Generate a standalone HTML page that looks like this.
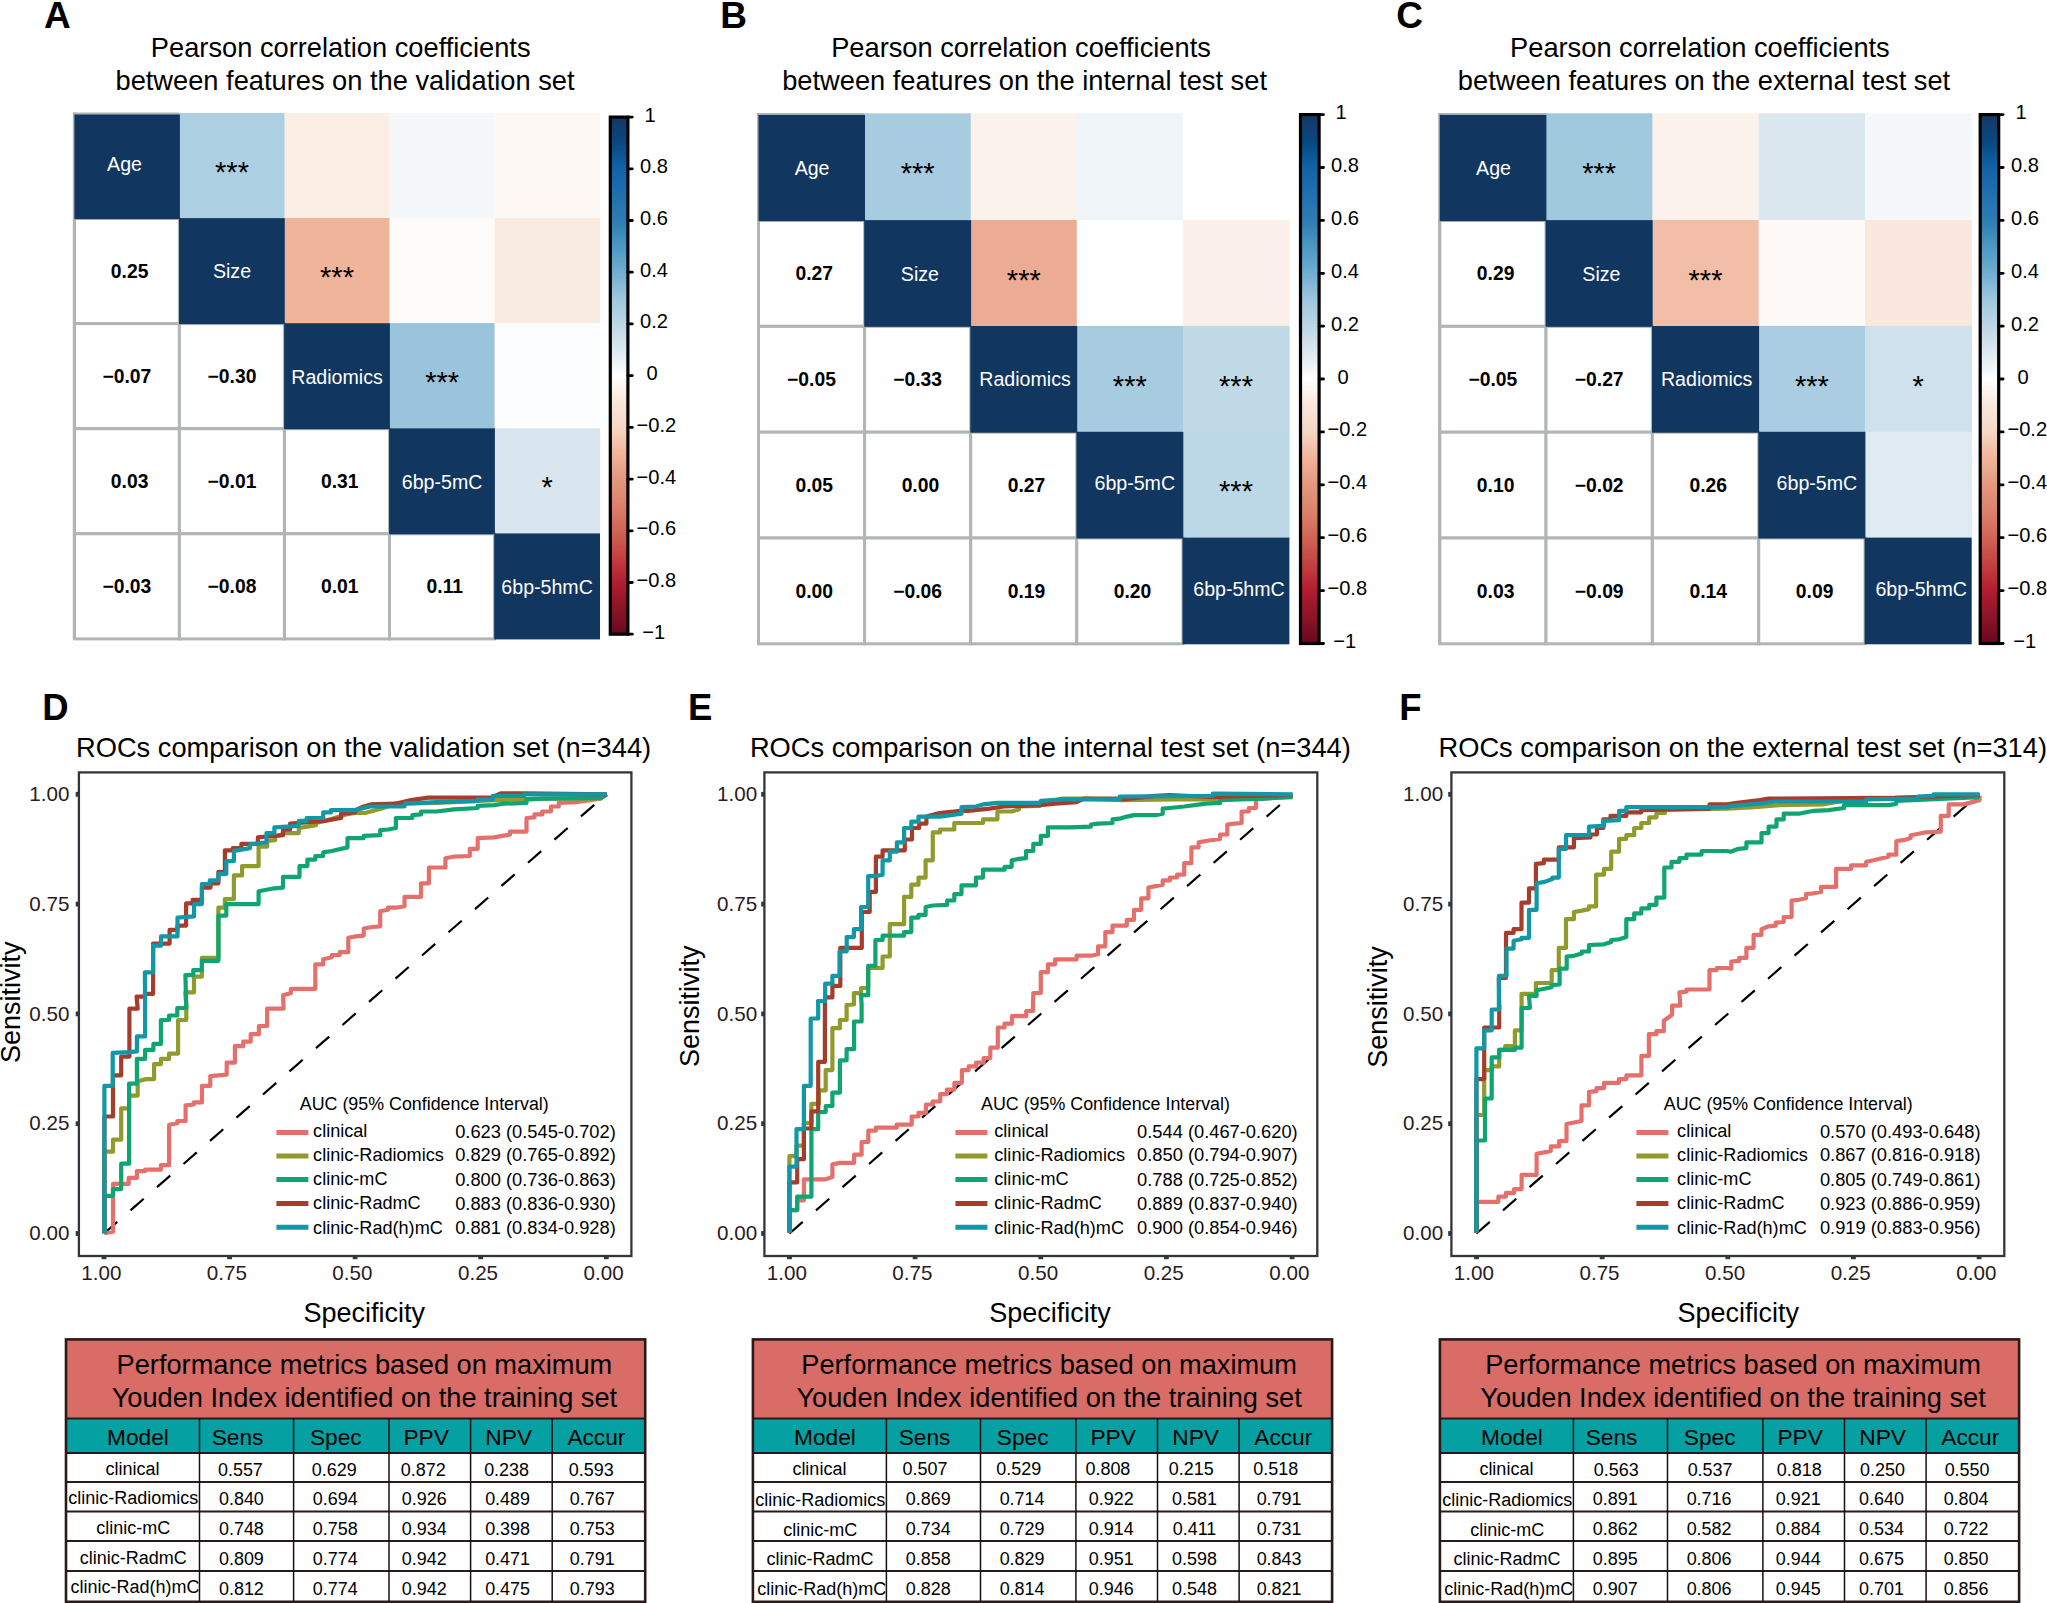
<!DOCTYPE html>
<html><head><meta charset="utf-8"><title>Figure</title>
<style>html,body{margin:0;padding:0;background:#fff}svg{display:block}text{font-family:"Liberation Sans", Arial, Helvetica, sans-serif}</style>
</head><body>
<svg width="2047" height="1603" viewBox="0 0 2047 1603">
<rect width="2047" height="1603" fill="#fff"/>
<defs><linearGradient id="cb" x1="0" y1="0" x2="0" y2="1">
<stop offset="0.000" stop-color="#153864"/>
<stop offset="0.050" stop-color="#084880"/>
<stop offset="0.100" stop-color="#1163a6"/>
<stop offset="0.150" stop-color="#2070af"/>
<stop offset="0.200" stop-color="#2d7db3"/>
<stop offset="0.250" stop-color="#4b98c4"/>
<stop offset="0.300" stop-color="#70aed1"/>
<stop offset="0.350" stop-color="#9ec7dd"/>
<stop offset="0.400" stop-color="#bcd7e6"/>
<stop offset="0.450" stop-color="#dce8f0"/>
<stop offset="0.500" stop-color="#ffffff"/>
<stop offset="0.550" stop-color="#f9e6da"/>
<stop offset="0.600" stop-color="#f7d6c4"/>
<stop offset="0.650" stop-color="#f0b49b"/>
<stop offset="0.700" stop-color="#e3987f"/>
<stop offset="0.750" stop-color="#dc826c"/>
<stop offset="0.800" stop-color="#d06455"/>
<stop offset="0.850" stop-color="#c34141"/>
<stop offset="0.900" stop-color="#b21c30"/>
<stop offset="0.950" stop-color="#8c1428"/>
<stop offset="1.000" stop-color="#670821"/>
</linearGradient></defs>
<text x="44.0" y="28.0" font-size="37" text-anchor="start" font-weight="bold" fill="#000" >A</text>
<text x="340.7" y="56.8" font-size="27.25" text-anchor="middle" font-weight="normal" fill="#000" >Pearson correlation coefficients</text>
<text x="345.0" y="89.8" font-size="27.25" text-anchor="middle" font-weight="normal" fill="#000" >between features on the validation set</text>
<rect x="179.4" y="112.9" width="105.6" height="105.4" fill="#adcfe2"/>
<rect x="284.5" y="112.9" width="105.6" height="105.4" fill="#fbeee5"/>
<rect x="389.5" y="112.9" width="105.6" height="105.4" fill="#f4f8fa"/>
<rect x="494.6" y="112.9" width="105.6" height="105.4" fill="#fdf8f4"/>
<rect x="284.5" y="218.0" width="105.6" height="105.4" fill="#f0b49b"/>
<rect x="389.5" y="218.0" width="105.6" height="105.4" fill="#fefcfb"/>
<rect x="494.6" y="218.0" width="105.6" height="105.4" fill="#faebe1"/>
<rect x="389.5" y="323.1" width="105.6" height="105.4" fill="#99c4dc"/>
<rect x="494.6" y="323.1" width="105.6" height="105.4" fill="#fcfdfe"/>
<rect x="494.6" y="428.2" width="105.6" height="105.4" fill="#d9e6ef"/>
<rect x="74.4" y="218.5" width="105.0" height="105.1" fill="#fff" stroke="#b1b5b6" stroke-width="3"/>
<rect x="74.4" y="323.6" width="105.0" height="105.1" fill="#fff" stroke="#b1b5b6" stroke-width="3"/>
<rect x="179.4" y="323.6" width="105.0" height="105.1" fill="#fff" stroke="#b1b5b6" stroke-width="3"/>
<rect x="74.4" y="428.7" width="105.0" height="105.1" fill="#fff" stroke="#b1b5b6" stroke-width="3"/>
<rect x="179.4" y="428.7" width="105.0" height="105.1" fill="#fff" stroke="#b1b5b6" stroke-width="3"/>
<rect x="284.5" y="428.7" width="105.0" height="105.1" fill="#fff" stroke="#b1b5b6" stroke-width="3"/>
<rect x="74.4" y="533.8" width="105.0" height="105.1" fill="#fff" stroke="#b1b5b6" stroke-width="3"/>
<rect x="179.4" y="533.8" width="105.0" height="105.1" fill="#fff" stroke="#b1b5b6" stroke-width="3"/>
<rect x="284.5" y="533.8" width="105.0" height="105.1" fill="#fff" stroke="#b1b5b6" stroke-width="3"/>
<rect x="389.5" y="533.8" width="105.0" height="105.1" fill="#fff" stroke="#b1b5b6" stroke-width="3"/>
<path d="M74.4 638.9 V112.6" stroke="#b1b5b6" stroke-width="3" fill="none"/>
<path d="M72.9 113.5 H179.4" stroke="#b1b5b6" stroke-width="1.8" fill="none"/>
<rect x="74.4" y="114.4" width="105.5" height="104.7" fill="#11365f"/>
<text x="124.5" y="171.0" font-size="19.6" text-anchor="middle" font-weight="normal" fill="#fff" >Age</text>
<rect x="179.0" y="218.1" width="105.8" height="106.0" fill="#11365f"/>
<text x="232.0" y="278.4" font-size="19.6" text-anchor="middle" font-weight="normal" fill="#fff" >Size</text>
<rect x="284.1" y="323.2" width="105.8" height="106.0" fill="#11365f"/>
<text x="337.0" y="383.5" font-size="19.6" text-anchor="middle" font-weight="normal" fill="#fff" >Radiomics</text>
<rect x="389.1" y="428.3" width="105.8" height="106.0" fill="#11365f"/>
<text x="442.1" y="488.6" font-size="19.6" text-anchor="middle" font-weight="normal" fill="#fff" >6bp-5mC</text>
<rect x="494.2" y="533.4" width="105.8" height="106.0" fill="#11365f"/>
<text x="547.1" y="593.7" font-size="19.6" text-anchor="middle" font-weight="normal" fill="#fff" >6bp-5hmC</text>
<text x="129.6" y="278.1" font-size="19.3" text-anchor="middle" font-weight="bold" fill="#000" >0.25</text>
<text x="126.9" y="383.1" font-size="19.3" text-anchor="middle" font-weight="bold" fill="#000" >−0.07</text>
<text x="232.0" y="383.1" font-size="19.3" text-anchor="middle" font-weight="bold" fill="#000" >−0.30</text>
<text x="129.6" y="488.2" font-size="19.3" text-anchor="middle" font-weight="bold" fill="#000" >0.03</text>
<text x="232.0" y="488.2" font-size="19.3" text-anchor="middle" font-weight="bold" fill="#000" >−0.01</text>
<text x="339.7" y="488.2" font-size="19.3" text-anchor="middle" font-weight="bold" fill="#000" >0.31</text>
<text x="126.9" y="593.3" font-size="19.3" text-anchor="middle" font-weight="bold" fill="#000" >−0.03</text>
<text x="232.0" y="593.3" font-size="19.3" text-anchor="middle" font-weight="bold" fill="#000" >−0.08</text>
<text x="339.7" y="593.3" font-size="19.3" text-anchor="middle" font-weight="bold" fill="#000" >0.01</text>
<text x="444.8" y="593.3" font-size="19.3" text-anchor="middle" font-weight="bold" fill="#000" >0.11</text>
<text x="232.0" y="182.1" font-size="29" text-anchor="middle" font-weight="normal" fill="#000" >***</text>
<text x="337.0" y="287.2" font-size="29" text-anchor="middle" font-weight="normal" fill="#000" >***</text>
<text x="442.1" y="392.3" font-size="29" text-anchor="middle" font-weight="normal" fill="#000" >***</text>
<text x="547.1" y="497.4" font-size="29" text-anchor="middle" font-weight="normal" fill="#000" >*</text>
<rect x="610.3" y="117.1" width="17.6" height="517.1" fill="url(#cb)" stroke="#000" stroke-width="3.2"/>
<path d="M627.9 117.1 h4.4" stroke="#000" stroke-width="2.8" stroke-linecap="round"/>
<text x="644.6" y="121.6" font-size="20.1" text-anchor="start" font-weight="normal" fill="#000" >1</text>
<path d="M627.9 168.8 h4.4" stroke="#000" stroke-width="2.8" stroke-linecap="round"/>
<text x="640.1" y="173.3" font-size="20.1" text-anchor="start" font-weight="normal" fill="#000" >0.8</text>
<path d="M627.9 220.5 h4.4" stroke="#000" stroke-width="2.8" stroke-linecap="round"/>
<text x="640.1" y="225.0" font-size="20.1" text-anchor="start" font-weight="normal" fill="#000" >0.6</text>
<path d="M627.9 272.2 h4.4" stroke="#000" stroke-width="2.8" stroke-linecap="round"/>
<text x="640.1" y="276.7" font-size="20.1" text-anchor="start" font-weight="normal" fill="#000" >0.4</text>
<path d="M627.9 323.9 h4.4" stroke="#000" stroke-width="2.8" stroke-linecap="round"/>
<text x="640.1" y="328.4" font-size="20.1" text-anchor="start" font-weight="normal" fill="#000" >0.2</text>
<path d="M627.9 375.6 h4.4" stroke="#000" stroke-width="2.8" stroke-linecap="round"/>
<text x="646.5" y="380.1" font-size="20.1" text-anchor="start" font-weight="normal" fill="#000" >0</text>
<path d="M627.9 427.4 h4.4" stroke="#000" stroke-width="2.8" stroke-linecap="round"/>
<text x="636.5" y="431.9" font-size="20.1" text-anchor="start" font-weight="normal" fill="#000" >−0.2</text>
<path d="M627.9 479.1 h4.4" stroke="#000" stroke-width="2.8" stroke-linecap="round"/>
<text x="636.5" y="483.6" font-size="20.1" text-anchor="start" font-weight="normal" fill="#000" >−0.4</text>
<path d="M627.9 530.8 h4.4" stroke="#000" stroke-width="2.8" stroke-linecap="round"/>
<text x="636.5" y="535.3" font-size="20.1" text-anchor="start" font-weight="normal" fill="#000" >−0.6</text>
<path d="M627.9 582.5 h4.4" stroke="#000" stroke-width="2.8" stroke-linecap="round"/>
<text x="636.5" y="587.0" font-size="20.1" text-anchor="start" font-weight="normal" fill="#000" >−0.8</text>
<path d="M627.9 634.2 h4.4" stroke="#000" stroke-width="2.8" stroke-linecap="round"/>
<text x="642.3" y="638.7" font-size="20.1" text-anchor="start" font-weight="normal" fill="#000" >−1</text>
<text x="720.3" y="28.0" font-size="37" text-anchor="start" font-weight="bold" fill="#000" >B</text>
<text x="1021.0" y="56.8" font-size="27.25" text-anchor="middle" font-weight="normal" fill="#000" >Pearson correlation coefficients</text>
<text x="1024.6" y="89.8" font-size="27.25" text-anchor="middle" font-weight="normal" fill="#000" >between features on the internal test set</text>
<rect x="864.6" y="113.3" width="106.7" height="107.0" fill="#a7cce0"/>
<rect x="970.7" y="113.3" width="106.7" height="107.0" fill="#fcf2ec"/>
<rect x="1076.8" y="113.3" width="106.7" height="107.0" fill="#eef4f8"/>
<rect x="1182.9" y="113.3" width="106.7" height="107.0" fill="#ffffff"/>
<rect x="970.7" y="220.0" width="106.7" height="106.1" fill="#ecac93"/>
<rect x="1076.8" y="220.0" width="106.7" height="106.1" fill="#ffffff"/>
<rect x="1182.9" y="220.0" width="106.7" height="106.1" fill="#fbf0e9"/>
<rect x="1076.8" y="325.9" width="106.7" height="106.1" fill="#a7cce0"/>
<rect x="1182.9" y="325.9" width="106.7" height="106.1" fill="#bfd9e7"/>
<rect x="1182.9" y="431.7" width="106.7" height="106.1" fill="#bcd7e6"/>
<rect x="758.5" y="220.5" width="106.1" height="105.8" fill="#fff" stroke="#b1b5b6" stroke-width="3"/>
<rect x="758.5" y="326.4" width="106.1" height="105.8" fill="#fff" stroke="#b1b5b6" stroke-width="3"/>
<rect x="864.6" y="326.4" width="106.1" height="105.8" fill="#fff" stroke="#b1b5b6" stroke-width="3"/>
<rect x="758.5" y="432.2" width="106.1" height="105.8" fill="#fff" stroke="#b1b5b6" stroke-width="3"/>
<rect x="864.6" y="432.2" width="106.1" height="105.8" fill="#fff" stroke="#b1b5b6" stroke-width="3"/>
<rect x="970.7" y="432.2" width="106.1" height="105.8" fill="#fff" stroke="#b1b5b6" stroke-width="3"/>
<rect x="758.5" y="538.0" width="106.1" height="105.8" fill="#fff" stroke="#b1b5b6" stroke-width="3"/>
<rect x="864.6" y="538.0" width="106.1" height="105.8" fill="#fff" stroke="#b1b5b6" stroke-width="3"/>
<rect x="970.7" y="538.0" width="106.1" height="105.8" fill="#fff" stroke="#b1b5b6" stroke-width="3"/>
<rect x="1076.8" y="538.0" width="106.1" height="105.8" fill="#fff" stroke="#b1b5b6" stroke-width="3"/>
<path d="M758.5 643.8 V113.0" stroke="#b1b5b6" stroke-width="3" fill="none"/>
<path d="M757.0 113.9 H864.6" stroke="#b1b5b6" stroke-width="1.8" fill="none"/>
<rect x="758.5" y="114.8" width="106.5" height="106.3" fill="#11365f"/>
<text x="812.1" y="174.6" font-size="19.6" text-anchor="middle" font-weight="normal" fill="#fff" >Age</text>
<rect x="864.2" y="220.1" width="106.9" height="106.7" fill="#11365f"/>
<text x="919.9" y="280.8" font-size="19.6" text-anchor="middle" font-weight="normal" fill="#fff" >Size</text>
<rect x="970.3" y="326.0" width="106.9" height="106.7" fill="#11365f"/>
<text x="1025.0" y="386.4" font-size="19.6" text-anchor="middle" font-weight="normal" fill="#fff" >Radiomics</text>
<rect x="1076.4" y="431.8" width="106.9" height="106.7" fill="#11365f"/>
<text x="1134.8" y="490.3" font-size="19.6" text-anchor="middle" font-weight="normal" fill="#fff" >6bp-5mC</text>
<rect x="1182.5" y="537.6" width="106.9" height="106.7" fill="#11365f"/>
<text x="1239.0" y="596.2" font-size="19.6" text-anchor="middle" font-weight="normal" fill="#fff" >6bp-5hmC</text>
<text x="814.2" y="280.4" font-size="19.3" text-anchor="middle" font-weight="bold" fill="#000" >0.27</text>
<text x="811.5" y="386.3" font-size="19.3" text-anchor="middle" font-weight="bold" fill="#000" >−0.05</text>
<text x="917.6" y="386.3" font-size="19.3" text-anchor="middle" font-weight="bold" fill="#000" >−0.33</text>
<text x="814.2" y="492.1" font-size="19.3" text-anchor="middle" font-weight="bold" fill="#000" >0.05</text>
<text x="920.4" y="492.1" font-size="19.3" text-anchor="middle" font-weight="bold" fill="#000" >0.00</text>
<text x="1026.5" y="492.1" font-size="19.3" text-anchor="middle" font-weight="bold" fill="#000" >0.27</text>
<text x="814.2" y="597.9" font-size="19.3" text-anchor="middle" font-weight="bold" fill="#000" >0.00</text>
<text x="917.6" y="597.9" font-size="19.3" text-anchor="middle" font-weight="bold" fill="#000" >−0.06</text>
<text x="1026.5" y="597.9" font-size="19.3" text-anchor="middle" font-weight="bold" fill="#000" >0.19</text>
<text x="1132.5" y="597.9" font-size="19.3" text-anchor="middle" font-weight="bold" fill="#000" >0.20</text>
<text x="917.6" y="183.4" font-size="29" text-anchor="middle" font-weight="normal" fill="#000" >***</text>
<text x="1023.8" y="289.6" font-size="29" text-anchor="middle" font-weight="normal" fill="#000" >***</text>
<text x="1129.8" y="395.5" font-size="29" text-anchor="middle" font-weight="normal" fill="#000" >***</text>
<text x="1236.0" y="395.5" font-size="29" text-anchor="middle" font-weight="normal" fill="#000" >***</text>
<text x="1236.0" y="501.3" font-size="29" text-anchor="middle" font-weight="normal" fill="#000" >***</text>
<rect x="1300.5" y="114.6" width="18.6" height="528.9" fill="url(#cb)" stroke="#000" stroke-width="3.2"/>
<path d="M1319.1 114.6 h4.4" stroke="#000" stroke-width="2.8" stroke-linecap="round"/>
<text x="1335.5" y="119.1" font-size="20.1" text-anchor="start" font-weight="normal" fill="#000" >1</text>
<path d="M1319.1 167.5 h4.4" stroke="#000" stroke-width="2.8" stroke-linecap="round"/>
<text x="1331.0" y="172.0" font-size="20.1" text-anchor="start" font-weight="normal" fill="#000" >0.8</text>
<path d="M1319.1 220.4 h4.4" stroke="#000" stroke-width="2.8" stroke-linecap="round"/>
<text x="1331.0" y="224.9" font-size="20.1" text-anchor="start" font-weight="normal" fill="#000" >0.6</text>
<path d="M1319.1 273.3 h4.4" stroke="#000" stroke-width="2.8" stroke-linecap="round"/>
<text x="1331.0" y="277.8" font-size="20.1" text-anchor="start" font-weight="normal" fill="#000" >0.4</text>
<path d="M1319.1 326.2 h4.4" stroke="#000" stroke-width="2.8" stroke-linecap="round"/>
<text x="1331.0" y="330.7" font-size="20.1" text-anchor="start" font-weight="normal" fill="#000" >0.2</text>
<path d="M1319.1 379.0 h4.4" stroke="#000" stroke-width="2.8" stroke-linecap="round"/>
<text x="1337.4" y="383.5" font-size="20.1" text-anchor="start" font-weight="normal" fill="#000" >0</text>
<path d="M1319.1 431.9 h4.4" stroke="#000" stroke-width="2.8" stroke-linecap="round"/>
<text x="1327.4" y="436.4" font-size="20.1" text-anchor="start" font-weight="normal" fill="#000" >−0.2</text>
<path d="M1319.1 484.8 h4.4" stroke="#000" stroke-width="2.8" stroke-linecap="round"/>
<text x="1327.4" y="489.3" font-size="20.1" text-anchor="start" font-weight="normal" fill="#000" >−0.4</text>
<path d="M1319.1 537.7 h4.4" stroke="#000" stroke-width="2.8" stroke-linecap="round"/>
<text x="1327.4" y="542.2" font-size="20.1" text-anchor="start" font-weight="normal" fill="#000" >−0.6</text>
<path d="M1319.1 590.6 h4.4" stroke="#000" stroke-width="2.8" stroke-linecap="round"/>
<text x="1327.4" y="595.1" font-size="20.1" text-anchor="start" font-weight="normal" fill="#000" >−0.8</text>
<path d="M1319.1 643.5 h4.4" stroke="#000" stroke-width="2.8" stroke-linecap="round"/>
<text x="1333.2" y="648.0" font-size="20.1" text-anchor="start" font-weight="normal" fill="#000" >−1</text>
<text x="1396.2" y="28.0" font-size="37" text-anchor="start" font-weight="bold" fill="#000" >C</text>
<text x="1699.9" y="56.8" font-size="27.25" text-anchor="middle" font-weight="normal" fill="#000" >Pearson correlation coefficients</text>
<text x="1704.0" y="89.8" font-size="27.25" text-anchor="middle" font-weight="normal" fill="#000" >between features on the external test set</text>
<rect x="1546.0" y="113.3" width="106.9" height="107.0" fill="#a1c9de"/>
<rect x="1652.4" y="113.3" width="106.9" height="107.0" fill="#fcf2ec"/>
<rect x="1758.7" y="113.3" width="106.9" height="107.0" fill="#dce8f0"/>
<rect x="1865.0" y="113.3" width="106.9" height="107.0" fill="#f4f8fa"/>
<rect x="1652.4" y="220.0" width="106.9" height="106.1" fill="#f2bea7"/>
<rect x="1758.7" y="220.0" width="106.9" height="106.1" fill="#fefaf8"/>
<rect x="1865.0" y="220.0" width="106.9" height="106.1" fill="#fae8de"/>
<rect x="1758.7" y="325.9" width="106.9" height="106.1" fill="#aacde1"/>
<rect x="1865.0" y="325.9" width="106.9" height="106.1" fill="#cfe1ec"/>
<rect x="1865.0" y="431.7" width="106.9" height="106.1" fill="#e0eaf2"/>
<rect x="1439.7" y="220.5" width="106.3" height="105.8" fill="#fff" stroke="#b1b5b6" stroke-width="3"/>
<rect x="1439.7" y="326.4" width="106.3" height="105.8" fill="#fff" stroke="#b1b5b6" stroke-width="3"/>
<rect x="1546.0" y="326.4" width="106.3" height="105.8" fill="#fff" stroke="#b1b5b6" stroke-width="3"/>
<rect x="1439.7" y="432.2" width="106.3" height="105.8" fill="#fff" stroke="#b1b5b6" stroke-width="3"/>
<rect x="1546.0" y="432.2" width="106.3" height="105.8" fill="#fff" stroke="#b1b5b6" stroke-width="3"/>
<rect x="1652.4" y="432.2" width="106.3" height="105.8" fill="#fff" stroke="#b1b5b6" stroke-width="3"/>
<rect x="1439.7" y="538.0" width="106.3" height="105.8" fill="#fff" stroke="#b1b5b6" stroke-width="3"/>
<rect x="1546.0" y="538.0" width="106.3" height="105.8" fill="#fff" stroke="#b1b5b6" stroke-width="3"/>
<rect x="1652.4" y="538.0" width="106.3" height="105.8" fill="#fff" stroke="#b1b5b6" stroke-width="3"/>
<rect x="1758.7" y="538.0" width="106.3" height="105.8" fill="#fff" stroke="#b1b5b6" stroke-width="3"/>
<path d="M1439.7 643.8 V113.0" stroke="#b1b5b6" stroke-width="3" fill="none"/>
<path d="M1438.2 113.9 H1546.0" stroke="#b1b5b6" stroke-width="1.8" fill="none"/>
<rect x="1439.7" y="114.8" width="106.7" height="106.3" fill="#11365f"/>
<text x="1493.5" y="174.6" font-size="19.6" text-anchor="middle" font-weight="normal" fill="#fff" >Age</text>
<rect x="1545.6" y="220.1" width="107.1" height="106.7" fill="#11365f"/>
<text x="1601.4" y="280.8" font-size="19.6" text-anchor="middle" font-weight="normal" fill="#fff" >Size</text>
<rect x="1652.0" y="326.0" width="107.1" height="106.7" fill="#11365f"/>
<text x="1706.7" y="386.4" font-size="19.6" text-anchor="middle" font-weight="normal" fill="#fff" >Radiomics</text>
<rect x="1758.3" y="431.8" width="107.1" height="106.7" fill="#11365f"/>
<text x="1816.9" y="490.3" font-size="19.6" text-anchor="middle" font-weight="normal" fill="#fff" >6bp-5mC</text>
<rect x="1864.6" y="537.6" width="107.1" height="106.7" fill="#11365f"/>
<text x="1921.2" y="596.2" font-size="19.6" text-anchor="middle" font-weight="normal" fill="#fff" >6bp-5hmC</text>
<text x="1495.6" y="280.4" font-size="19.3" text-anchor="middle" font-weight="bold" fill="#000" >0.29</text>
<text x="1492.9" y="386.3" font-size="19.3" text-anchor="middle" font-weight="bold" fill="#000" >−0.05</text>
<text x="1599.2" y="386.3" font-size="19.3" text-anchor="middle" font-weight="bold" fill="#000" >−0.27</text>
<text x="1495.6" y="492.1" font-size="19.3" text-anchor="middle" font-weight="bold" fill="#000" >0.10</text>
<text x="1599.2" y="492.1" font-size="19.3" text-anchor="middle" font-weight="bold" fill="#000" >−0.02</text>
<text x="1708.2" y="492.1" font-size="19.3" text-anchor="middle" font-weight="bold" fill="#000" >0.26</text>
<text x="1495.6" y="597.9" font-size="19.3" text-anchor="middle" font-weight="bold" fill="#000" >0.03</text>
<text x="1599.2" y="597.9" font-size="19.3" text-anchor="middle" font-weight="bold" fill="#000" >−0.09</text>
<text x="1708.2" y="597.9" font-size="19.3" text-anchor="middle" font-weight="bold" fill="#000" >0.14</text>
<text x="1814.6" y="597.9" font-size="19.3" text-anchor="middle" font-weight="bold" fill="#000" >0.09</text>
<text x="1599.2" y="183.4" font-size="29" text-anchor="middle" font-weight="normal" fill="#000" >***</text>
<text x="1705.5" y="289.6" font-size="29" text-anchor="middle" font-weight="normal" fill="#000" >***</text>
<text x="1811.9" y="395.5" font-size="29" text-anchor="middle" font-weight="normal" fill="#000" >***</text>
<text x="1918.2" y="395.5" font-size="29" text-anchor="middle" font-weight="normal" fill="#000" >*</text>
<rect x="1980.2" y="114.6" width="18.5" height="528.9" fill="url(#cb)" stroke="#000" stroke-width="3.2"/>
<path d="M1998.7 114.6 h4.4" stroke="#000" stroke-width="2.8" stroke-linecap="round"/>
<text x="2015.5" y="119.1" font-size="20.1" text-anchor="start" font-weight="normal" fill="#000" >1</text>
<path d="M1998.7 167.5 h4.4" stroke="#000" stroke-width="2.8" stroke-linecap="round"/>
<text x="2011.0" y="172.0" font-size="20.1" text-anchor="start" font-weight="normal" fill="#000" >0.8</text>
<path d="M1998.7 220.4 h4.4" stroke="#000" stroke-width="2.8" stroke-linecap="round"/>
<text x="2011.0" y="224.9" font-size="20.1" text-anchor="start" font-weight="normal" fill="#000" >0.6</text>
<path d="M1998.7 273.3 h4.4" stroke="#000" stroke-width="2.8" stroke-linecap="round"/>
<text x="2011.0" y="277.8" font-size="20.1" text-anchor="start" font-weight="normal" fill="#000" >0.4</text>
<path d="M1998.7 326.2 h4.4" stroke="#000" stroke-width="2.8" stroke-linecap="round"/>
<text x="2011.0" y="330.7" font-size="20.1" text-anchor="start" font-weight="normal" fill="#000" >0.2</text>
<path d="M1998.7 379.0 h4.4" stroke="#000" stroke-width="2.8" stroke-linecap="round"/>
<text x="2017.4" y="383.5" font-size="20.1" text-anchor="start" font-weight="normal" fill="#000" >0</text>
<path d="M1998.7 431.9 h4.4" stroke="#000" stroke-width="2.8" stroke-linecap="round"/>
<text x="2007.4" y="436.4" font-size="20.1" text-anchor="start" font-weight="normal" fill="#000" >−0.2</text>
<path d="M1998.7 484.8 h4.4" stroke="#000" stroke-width="2.8" stroke-linecap="round"/>
<text x="2007.4" y="489.3" font-size="20.1" text-anchor="start" font-weight="normal" fill="#000" >−0.4</text>
<path d="M1998.7 537.7 h4.4" stroke="#000" stroke-width="2.8" stroke-linecap="round"/>
<text x="2007.4" y="542.2" font-size="20.1" text-anchor="start" font-weight="normal" fill="#000" >−0.6</text>
<path d="M1998.7 590.6 h4.4" stroke="#000" stroke-width="2.8" stroke-linecap="round"/>
<text x="2007.4" y="595.1" font-size="20.1" text-anchor="start" font-weight="normal" fill="#000" >−0.8</text>
<path d="M1998.7 643.5 h4.4" stroke="#000" stroke-width="2.8" stroke-linecap="round"/>
<text x="2013.2" y="648.0" font-size="20.1" text-anchor="start" font-weight="normal" fill="#000" >−1</text>
<text x="42.2" y="719.6" font-size="36.5" text-anchor="start" font-weight="bold" fill="#000" >D</text>
<text x="76.0" y="757.0" font-size="27.27" text-anchor="start" font-weight="normal" fill="#000" >ROCs comparison on the validation set (n=344)</text>
<rect x="78.9" y="772.4" width="552.5" height="483.6" fill="none" stroke="#32363a" stroke-width="2.3"/>
<path d="M104.0 1256.0 v3.2" stroke="#32363a" stroke-width="4.8"/>
<path d="M78.9 794.3 h-3.2" stroke="#32363a" stroke-width="4.8"/>
<text x="101.3" y="1280.4" font-size="20.6" text-anchor="middle" font-weight="normal" fill="#2b1c1c" >1.00</text>
<text x="69.4" y="801.0" font-size="20.6" text-anchor="end" font-weight="normal" fill="#2b1c1c" >1.00</text>
<path d="M229.6 1256.0 v3.2" stroke="#32363a" stroke-width="4.8"/>
<path d="M78.9 904.1 h-3.2" stroke="#32363a" stroke-width="4.8"/>
<text x="226.9" y="1280.4" font-size="20.6" text-anchor="middle" font-weight="normal" fill="#2b1c1c" >0.75</text>
<text x="69.4" y="910.8" font-size="20.6" text-anchor="end" font-weight="normal" fill="#2b1c1c" >0.75</text>
<path d="M355.1 1256.0 v3.2" stroke="#32363a" stroke-width="4.8"/>
<path d="M78.9 1013.9 h-3.2" stroke="#32363a" stroke-width="4.8"/>
<text x="352.4" y="1280.4" font-size="20.6" text-anchor="middle" font-weight="normal" fill="#2b1c1c" >0.50</text>
<text x="69.4" y="1020.6" font-size="20.6" text-anchor="end" font-weight="normal" fill="#2b1c1c" >0.50</text>
<path d="M480.7 1256.0 v3.2" stroke="#32363a" stroke-width="4.8"/>
<path d="M78.9 1123.7 h-3.2" stroke="#32363a" stroke-width="4.8"/>
<text x="478.0" y="1280.4" font-size="20.6" text-anchor="middle" font-weight="normal" fill="#2b1c1c" >0.25</text>
<text x="69.4" y="1130.4" font-size="20.6" text-anchor="end" font-weight="normal" fill="#2b1c1c" >0.25</text>
<path d="M606.3 1256.0 v3.2" stroke="#32363a" stroke-width="4.8"/>
<path d="M78.9 1233.5 h-3.2" stroke="#32363a" stroke-width="4.8"/>
<text x="603.6" y="1280.4" font-size="20.6" text-anchor="middle" font-weight="normal" fill="#2b1c1c" >0.00</text>
<text x="69.4" y="1240.2" font-size="20.6" text-anchor="end" font-weight="normal" fill="#2b1c1c" >0.00</text>
<path d="M104.0 1233.5 L606.3 794.3" stroke="#000" stroke-width="2.2" stroke-dasharray="17.6 17.6" fill="none"/>
<polyline points="104.4,1233.3 113.0,1231.8 113.0,1183.9 128.7,1183.9 128.7,1177.9 136.9,1177.9 136.9,1171.1 145.1,1171.1 145.1,1169.6 160.9,1169.6 160.9,1165.2 169.1,1165.2 169.1,1124.7 177.3,1123.2 177.3,1121.0 185.6,1121.0 185.6,1105.3 193.8,1104.5 193.8,1102.3 202.0,1102.3 202.0,1085.8 210.3,1085.8 210.3,1076.1 218.5,1075.3 226.7,1074.6 226.7,1062.6 234.9,1062.6 234.9,1046.2 243.2,1046.2 243.2,1041.7 250.7,1041.7 250.7,1034.2 258.9,1034.2 258.9,1026.0 267.1,1026.0 267.1,1008.7 283.6,1008.7 283.0,995.2 290.9,993.1 290.9,988.8 315.3,988.8 315.3,964.4 323.2,964.4 323.2,959.3 331.8,957.2 331.8,955.0 339.7,955.0 339.7,952.2 348.3,952.2 348.3,937.8 355.8,936.4 363.7,935.6 363.7,928.5 372.3,927.0 380.2,926.3 380.2,911.3 388.0,909.8 388.0,907.7 395.9,907.7 404.5,906.2 404.5,896.9 421.0,896.9 421.0,883.3 428.9,883.3 428.9,867.5 445.4,867.5 445.4,858.2 453.3,856.7 469.8,856.0 469.8,848.8 477.7,848.8 477.7,838.1 494.2,837.4 502.1,835.9 510.0,834.5 510.0,831.6 526.5,831.6 526.5,818.0 534.4,817.3 534.4,814.4 542.3,814.4 542.3,811.5 550.9,811.5 550.9,806.5 558.8,806.5 558.8,802.9 576.0,802.2 600.4,798.6 606.8,794.3" fill="none" stroke="#e5706b" stroke-width="4.2" stroke-linejoin="round"/>
<polyline points="104.4,1233.3 104.4,1151.7 113.0,1151.7 113.0,1139.7 121.2,1139.7 121.2,1108.3 129.1,1108.3 129.1,1095.6 137.7,1095.6 137.7,1081.3 145.9,1079.1 154.1,1079.1 154.1,1064.1 160.9,1064.1 160.9,1058.9 169.1,1058.9 169.1,1053.6 178.1,1053.6 178.1,1020.0 186.3,1020.0 186.3,1005.0 185.4,992.3 194.0,992.3 194.0,976.6 201.9,976.6 201.9,957.9 218.4,957.9 218.4,907.7 224.9,907.7 224.9,899.1 233.9,899.1 233.9,875.4 242.1,875.4 242.1,866.1 258.6,866.1 258.6,846.7 267.2,846.7 267.2,841.0 275.1,840.2 275.1,836.7 285.8,833.1 298.8,833.1 298.8,828.0 307.4,826.6 316.0,825.2 316.0,823.0 324.6,820.9 346.1,814.4 355.0,813.0 365.1,813.0 380.9,808.7 395.2,803.7 436.8,802.9 495.6,800.1 524.3,799.3 543.0,798.6 600.4,798.6 606.8,794.3" fill="none" stroke="#909a2d" stroke-width="4.2" stroke-linejoin="round"/>
<polyline points="104.4,1233.3 104.4,1195.8 113.0,1195.8 113.0,1189.1 121.2,1189.1 121.2,1163.7 129.1,1163.7 129.1,1083.6 136.9,1083.6 136.9,1058.9 145.1,1058.9 145.1,1049.9 153.4,1049.9 153.4,1043.9 160.9,1043.9 160.9,1020.0 169.1,1020.0 169.1,1015.5 177.3,1015.5 177.3,1008.0 186.3,1008.0 185.4,975.1 193.3,975.1 193.3,970.1 201.9,970.1 201.9,960.8 218.4,960.8 218.4,915.6 226.3,915.6 226.3,904.1 258.6,904.1 258.6,891.2 266.5,889.7 274.4,888.3 283.0,887.6 283.0,876.8 299.5,876.8 299.5,866.1 307.4,866.1 307.4,859.6 315.3,859.6 315.3,856.0 323.2,856.0 323.2,852.4 331.8,851.0 347.5,847.4 347.5,838.1 355.0,838.1 347.9,838.1 363.7,838.1 363.7,835.9 380.2,835.2 380.2,830.2 388.0,829.5 395.9,828.0 395.9,818.0 412.4,818.0 412.4,815.1 421.0,814.4 421.0,811.5 436.8,811.5 454.0,809.4 477.7,808.0 477.7,805.8 494.2,805.1 502.8,803.7 526.5,802.9 526.5,799.3 543.0,798.6 600.4,797.9 606.8,794.3" fill="none" stroke="#0fa571" stroke-width="4.2" stroke-linejoin="round"/>
<polyline points="104.4,1233.3 104.4,1116.5 113.0,1116.5 113.0,1075.3 121.2,1075.3 121.2,1056.6 129.4,1056.6 129.4,1008.7 137.7,1008.7 136.6,996.7 144.9,996.7 144.9,993.8 153.1,993.8 153.1,943.6 169.6,943.6 169.6,929.9 177.5,929.9 177.5,925.6 186.1,925.6 186.1,903.4 192.6,903.4 192.6,899.8 201.9,899.8 201.9,887.6 210.5,887.6 210.5,883.3 218.4,883.3 218.4,871.8 224.9,871.8 224.9,850.3 232.8,850.3 232.8,848.1 241.4,848.1 241.4,843.8 257.9,843.8 257.9,837.4 283.0,835.2 283.0,829.5 290.1,829.5 290.1,823.7 324.6,820.9 341.1,818.0 341.1,813.7 355.0,812.3 349.3,813.0 363.7,806.5 370.8,804.4 395.2,803.7 411.0,800.1 428.2,797.6 491.3,797.6 500.7,793.3 524.3,793.3 606.8,794.3" fill="none" stroke="#a63c2b" stroke-width="4.2" stroke-linejoin="round"/>
<polyline points="104.4,1233.3 104.4,1085.8 112.7,1085.8 112.7,1052.9 129.4,1052.1 136.9,1051.4 136.9,1036.4 145.1,1036.4 145.1,1005.0 144.9,972.3 153.1,972.3 153.1,945.7 161.0,945.7 161.0,936.4 177.5,936.4 177.5,917.7 194.0,916.3 194.0,904.1 201.9,904.1 201.9,884.0 209.8,884.0 209.8,880.4 218.4,880.4 218.4,874.0 226.3,874.0 226.3,861.1 233.9,861.1 233.9,851.0 250.0,848.1 250.0,844.5 266.5,842.4 266.5,833.1 274.4,833.1 274.4,827.3 298.8,825.9 298.8,820.9 306.7,820.9 306.7,818.0 323.2,818.0 323.2,812.3 331.0,812.3 331.0,810.1 355.0,810.1 370.1,806.5 404.5,806.5 404.5,803.7 436.8,802.2 477.7,800.8 477.7,799.3 492.8,799.3 492.8,795.8 524.3,795.8 524.3,794.3 606.8,794.3" fill="none" stroke="#1197a5" stroke-width="4.2" stroke-linejoin="round"/>
<text x="364.3" y="1322.0" font-size="27" text-anchor="middle" font-weight="normal" fill="#000" >Specificity</text>
<text transform="translate(20.0,1002.2) rotate(-90)" font-size="27" text-anchor="middle">Sensitivity</text>
<text x="299.8" y="1109.7" font-size="17.85" text-anchor="start" font-weight="normal" fill="#000" >AUC (95% Confidence Interval)</text>
<path d="M276.4 1132.5 h32" stroke="#e5706b" stroke-width="5.0"/>
<text x="313.1" y="1136.7" font-size="18.1" text-anchor="start" font-weight="normal" fill="#000" >clinical</text>
<text x="455.2" y="1137.9" font-size="18.3" text-anchor="start" font-weight="normal" fill="#000" >0.623 (0.545-0.702)</text>
<path d="M276.4 1156.1 h32" stroke="#909a2d" stroke-width="5.0"/>
<text x="313.1" y="1160.9" font-size="18.1" text-anchor="start" font-weight="normal" fill="#000" >clinic-Radiomics</text>
<text x="455.2" y="1161.4" font-size="18.3" text-anchor="start" font-weight="normal" fill="#000" >0.829 (0.765-0.892)</text>
<path d="M276.4 1179.6 h32" stroke="#0fa571" stroke-width="5.0"/>
<text x="313.1" y="1184.9" font-size="18.1" text-anchor="start" font-weight="normal" fill="#000" >clinic-mC</text>
<text x="455.2" y="1185.5" font-size="18.3" text-anchor="start" font-weight="normal" fill="#000" >0.800 (0.736-0.863)</text>
<path d="M276.4 1203.5 h32" stroke="#a63c2b" stroke-width="5.0"/>
<text x="313.1" y="1208.9" font-size="18.1" text-anchor="start" font-weight="normal" fill="#000" >clinic-RadmC</text>
<text x="455.2" y="1209.8" font-size="18.3" text-anchor="start" font-weight="normal" fill="#000" >0.883 (0.836-0.930)</text>
<path d="M276.4 1227.3 h32" stroke="#1197a5" stroke-width="5.0"/>
<text x="313.1" y="1233.5" font-size="18.1" text-anchor="start" font-weight="normal" fill="#000" >clinic-Rad(h)mC</text>
<text x="455.2" y="1234.0" font-size="18.3" text-anchor="start" font-weight="normal" fill="#000" >0.881 (0.834-0.928)</text>
<text x="688.0" y="720.2" font-size="36.5" text-anchor="start" font-weight="bold" fill="#000" >E</text>
<text x="749.9" y="757.0" font-size="27.27" text-anchor="start" font-weight="normal" fill="#000" >ROCs comparison on the internal test set (n=344)</text>
<rect x="764.4" y="772.4" width="552.9" height="483.6" fill="none" stroke="#32363a" stroke-width="2.3"/>
<path d="M789.5 1256.0 v3.2" stroke="#32363a" stroke-width="4.8"/>
<path d="M764.4 794.3 h-3.2" stroke="#32363a" stroke-width="4.8"/>
<text x="786.8" y="1280.4" font-size="20.6" text-anchor="middle" font-weight="normal" fill="#2b1c1c" >1.00</text>
<text x="757.1" y="801.0" font-size="20.6" text-anchor="end" font-weight="normal" fill="#2b1c1c" >1.00</text>
<path d="M915.1 1256.0 v3.2" stroke="#32363a" stroke-width="4.8"/>
<path d="M764.4 904.1 h-3.2" stroke="#32363a" stroke-width="4.8"/>
<text x="912.4" y="1280.4" font-size="20.6" text-anchor="middle" font-weight="normal" fill="#2b1c1c" >0.75</text>
<text x="757.1" y="910.8" font-size="20.6" text-anchor="end" font-weight="normal" fill="#2b1c1c" >0.75</text>
<path d="M1040.8 1256.0 v3.2" stroke="#32363a" stroke-width="4.8"/>
<path d="M764.4 1013.9 h-3.2" stroke="#32363a" stroke-width="4.8"/>
<text x="1038.1" y="1280.4" font-size="20.6" text-anchor="middle" font-weight="normal" fill="#2b1c1c" >0.50</text>
<text x="757.1" y="1020.6" font-size="20.6" text-anchor="end" font-weight="normal" fill="#2b1c1c" >0.50</text>
<path d="M1166.4 1256.0 v3.2" stroke="#32363a" stroke-width="4.8"/>
<path d="M764.4 1123.7 h-3.2" stroke="#32363a" stroke-width="4.8"/>
<text x="1163.7" y="1280.4" font-size="20.6" text-anchor="middle" font-weight="normal" fill="#2b1c1c" >0.25</text>
<text x="757.1" y="1130.4" font-size="20.6" text-anchor="end" font-weight="normal" fill="#2b1c1c" >0.25</text>
<path d="M1292.1 1256.0 v3.2" stroke="#32363a" stroke-width="4.8"/>
<path d="M764.4 1233.5 h-3.2" stroke="#32363a" stroke-width="4.8"/>
<text x="1289.4" y="1280.4" font-size="20.6" text-anchor="middle" font-weight="normal" fill="#2b1c1c" >0.00</text>
<text x="757.1" y="1240.2" font-size="20.6" text-anchor="end" font-weight="normal" fill="#2b1c1c" >0.00</text>
<path d="M789.5 1233.5 L1292.1 794.3" stroke="#000" stroke-width="2.2" stroke-dasharray="17.6 17.6" fill="none"/>
<polyline points="789.4,1232.5 789.4,1210.1 797.2,1210.1 797.2,1200.3 803.9,1200.3 803.9,1179.4 824.9,1179.4 832.4,1177.1 832.4,1164.4 839.9,1162.9 854.1,1162.9 854.1,1154.7 861.6,1154.7 861.6,1142.0 868.3,1142.0 868.3,1130.7 875.8,1130.7 875.8,1127.7 896.7,1127.7 896.7,1124.7 911.7,1124.7 911.7,1116.5 918.5,1116.5 918.5,1112.8 925.9,1112.8 925.9,1104.5 932.7,1104.5 932.7,1101.5 940.2,1101.5 940.2,1094.1 946.9,1094.1 946.9,1089.6 954.4,1089.6 954.4,1082.8 961.9,1082.8 961.9,1070.1 968.6,1070.1 968.6,1066.4 976.1,1066.4 976.1,1062.6 983.6,1062.6 983.6,1058.1 990.3,1058.1 990.3,1047.7 997.8,1047.7 997.8,1027.5 1004.5,1027.5 1004.5,1023.7 1012.0,1023.7 1012.0,1016.2 1026.2,1016.2 1026.2,1011.0 1033.0,1011.0 1033.0,1005.0 1033.3,993.1 1040.8,993.0 1040.8,972.2 1047.9,972.2 1047.9,964.3 1055.1,964.3 1055.1,959.3 1076.6,959.3 1076.6,955.7 1091.0,955.7 1098.1,954.3 1098.1,946.4 1105.3,946.4 1105.3,932.1 1112.5,932.1 1112.5,925.6 1126.8,925.6 1126.8,919.9 1134.0,919.9 1134.0,909.8 1141.2,909.8 1141.2,898.3 1148.4,898.3 1148.4,887.6 1155.5,886.1 1162.7,884.7 1162.7,880.4 1169.9,880.4 1169.9,877.5 1177.1,877.5 1177.1,874.7 1184.2,874.7 1184.2,863.2 1191.4,863.2 1191.4,847.4 1198.6,847.4 1198.6,842.4 1205.8,841.0 1220.1,838.8 1220.1,834.5 1227.3,834.5 1227.3,824.5 1234.4,823.7 1241.6,823.0 1241.6,811.5 1248.8,811.5 1248.8,808.0 1256.0,808.0 1256.0,799.3 1292.6,796.2" fill="none" stroke="#e5706b" stroke-width="4.2" stroke-linejoin="round"/>
<polyline points="789.4,1232.5 789.4,1156.2 796.5,1156.2 796.5,1145.7 803.9,1145.7 803.9,1123.2 811.4,1123.2 811.4,1103.8 818.9,1103.8 818.9,1090.3 825.7,1090.3 825.7,1070.1 832.4,1070.1 832.4,1028.2 839.9,1028.2 839.9,1020.0 846.6,1020.0 846.6,1005.0 853.9,1004.5 853.9,993.1 861.1,993.1 861.1,988.0 868.2,988.0 868.2,968.0 882.6,968.0 882.6,956.5 889.8,956.5 889.8,924.2 904.1,924.2 904.1,896.9 911.3,896.9 911.3,884.7 918.5,884.7 918.5,877.6 925.6,877.6 925.6,860.3 932.8,860.3 932.8,832.4 940.0,832.4 940.0,829.5 954.3,829.5 954.3,823.0 983.0,823.0 983.0,819.4 997.4,819.4 997.4,811.5 1011.7,811.5 1018.9,809.4 1018.9,806.5 1040.0,805.8 1034.3,805.8 1062.3,798.6 1083.8,798.6 1123.3,800.1 1173.5,799.3 1216.5,799.3 1242.3,797.9 1292.6,796.5" fill="none" stroke="#909a2d" stroke-width="4.2" stroke-linejoin="round"/>
<polyline points="789.4,1232.5 789.4,1210.1 797.2,1210.1 797.2,1196.6 811.4,1196.6 811.4,1129.2 818.2,1129.2 818.2,1112.0 825.7,1112.0 825.7,1106.0 832.4,1106.0 832.4,1092.6 839.9,1092.6 839.9,1060.4 846.6,1060.4 846.6,1049.2 854.1,1049.2 854.1,1021.5 861.6,1021.5 861.6,1005.0 861.1,995.2 868.2,995.2 868.2,965.8 875.4,965.8 875.4,940.0 882.6,940.0 882.6,935.7 904.1,935.7 904.1,932.1 911.3,932.1 911.3,917.7 918.5,917.7 918.5,914.9 925.6,914.9 925.6,907.0 932.8,905.5 947.2,904.8 947.2,900.5 954.3,900.5 954.3,894.1 961.5,894.1 961.5,885.4 975.9,885.4 975.9,877.6 983.0,877.6 983.0,869.7 1004.6,869.7 1004.6,866.8 1011.7,866.8 1011.7,860.3 1018.9,858.9 1026.1,858.2 1026.1,851.0 1033.3,851.0 1033.3,843.8 1040.0,843.8 1033.6,843.8 1040.8,843.8 1040.8,835.9 1047.9,835.9 1047.9,827.3 1069.5,827.3 1091.0,826.6 1091.0,824.5 1098.1,823.7 1112.5,823.0 1112.5,819.4 1119.7,818.7 1126.8,816.6 1134.0,815.1 1155.5,815.1 1162.7,813.7 1162.7,808.7 1169.9,808.0 1184.2,806.5 1205.8,803.7 1220.1,802.9 1220.1,800.1 1241.6,799.3 1263.1,798.6 1292.6,797.2" fill="none" stroke="#0fa571" stroke-width="4.2" stroke-linejoin="round"/>
<polyline points="789.4,1232.5 789.4,1182.4 797.2,1182.4 797.2,1159.2 803.9,1159.2 803.9,1128.5 811.4,1128.5 811.4,1111.3 818.2,1111.3 818.2,1061.9 824.9,1061.9 824.9,1005.0 825.2,997.4 832.4,997.4 832.4,985.9 840.3,985.9 840.3,947.9 861.8,947.9 861.8,912.0 869.7,912.0 869.7,891.9 875.9,891.9 875.9,856.7 882.6,856.7 882.6,850.3 904.8,850.3 904.8,839.5 912.0,839.5 912.0,828.0 919.2,828.0 919.2,823.7 926.4,823.7 926.4,816.6 939.3,813.0 960.8,810.8 968.0,810.8 989.5,808.7 1003.8,806.5 1040.0,805.1 1055.1,803.7 1076.6,802.2 1083.8,798.6 1116.1,798.6 1123.3,799.3 1155.5,795.8 1169.9,795.0 1213.6,797.2 1228.0,796.5 1292.6,795.0" fill="none" stroke="#a63c2b" stroke-width="4.2" stroke-linejoin="round"/>
<polyline points="789.4,1232.5 789.4,1166.7 796.5,1166.7 796.5,1129.2 803.9,1129.2 803.9,1085.8 810.7,1085.8 810.7,1018.5 818.2,1018.5 818.2,1005.0 818.0,1001.0 825.2,1001.0 825.2,983.7 832.4,983.7 832.4,975.8 839.5,975.8 839.5,951.5 846.7,951.5 846.7,937.1 853.9,937.1 853.9,929.2 861.1,929.2 861.1,907.0 868.2,907.0 868.2,876.1 875.4,876.1 882.6,874.7 882.6,860.3 889.8,860.3 889.8,851.7 896.9,851.7 896.9,842.4 904.1,842.4 904.1,828.0 911.3,828.0 911.3,821.6 918.5,821.6 918.5,816.6 940.0,816.6 961.5,813.7 961.5,807.2 975.9,806.5 983.0,804.4 997.4,802.9 1040.0,802.9 1040.8,800.8 1062.3,799.3 1119.7,799.3 1119.7,796.5 1212.9,795.8 1212.9,793.6 1292.6,794.3" fill="none" stroke="#1197a5" stroke-width="4.2" stroke-linejoin="round"/>
<text x="1050.0" y="1322.0" font-size="27" text-anchor="middle" font-weight="normal" fill="#000" >Specificity</text>
<text transform="translate(699.0,1006.3) rotate(-90)" font-size="27" text-anchor="middle">Sensitivity</text>
<text x="981.0" y="1109.7" font-size="17.85" text-anchor="start" font-weight="normal" fill="#000" >AUC (95% Confidence Interval)</text>
<path d="M955.4 1132.5 h32" stroke="#e5706b" stroke-width="5.0"/>
<text x="994.3" y="1136.7" font-size="18.1" text-anchor="start" font-weight="normal" fill="#000" >clinical</text>
<text x="1137.1" y="1137.9" font-size="18.3" text-anchor="start" font-weight="normal" fill="#000" >0.544 (0.467-0.620)</text>
<path d="M955.4 1156.1 h32" stroke="#909a2d" stroke-width="5.0"/>
<text x="994.3" y="1160.9" font-size="18.1" text-anchor="start" font-weight="normal" fill="#000" >clinic-Radiomics</text>
<text x="1137.1" y="1161.4" font-size="18.3" text-anchor="start" font-weight="normal" fill="#000" >0.850 (0.794-0.907)</text>
<path d="M955.4 1179.6 h32" stroke="#0fa571" stroke-width="5.0"/>
<text x="994.3" y="1184.9" font-size="18.1" text-anchor="start" font-weight="normal" fill="#000" >clinic-mC</text>
<text x="1137.1" y="1185.5" font-size="18.3" text-anchor="start" font-weight="normal" fill="#000" >0.788 (0.725-0.852)</text>
<path d="M955.4 1203.5 h32" stroke="#a63c2b" stroke-width="5.0"/>
<text x="994.3" y="1208.9" font-size="18.1" text-anchor="start" font-weight="normal" fill="#000" >clinic-RadmC</text>
<text x="1137.1" y="1209.8" font-size="18.3" text-anchor="start" font-weight="normal" fill="#000" >0.889 (0.837-0.940)</text>
<path d="M955.4 1227.3 h32" stroke="#1197a5" stroke-width="5.0"/>
<text x="994.3" y="1233.5" font-size="18.1" text-anchor="start" font-weight="normal" fill="#000" >clinic-Rad(h)mC</text>
<text x="1137.1" y="1234.0" font-size="18.3" text-anchor="start" font-weight="normal" fill="#000" >0.900 (0.854-0.946)</text>
<text x="1399.3" y="720.2" font-size="36.5" text-anchor="start" font-weight="bold" fill="#000" >F</text>
<text x="1438.5" y="757.0" font-size="27.27" text-anchor="start" font-weight="normal" fill="#000" >ROCs comparison on the external test set (n=314)</text>
<rect x="1451.4" y="772.4" width="552.9" height="483.6" fill="none" stroke="#32363a" stroke-width="2.3"/>
<path d="M1476.5 1256.0 v3.2" stroke="#32363a" stroke-width="4.8"/>
<path d="M1451.4 794.3 h-3.2" stroke="#32363a" stroke-width="4.8"/>
<text x="1473.8" y="1280.4" font-size="20.6" text-anchor="middle" font-weight="normal" fill="#2b1c1c" >1.00</text>
<text x="1443.2" y="801.0" font-size="20.6" text-anchor="end" font-weight="normal" fill="#2b1c1c" >1.00</text>
<path d="M1602.2 1256.0 v3.2" stroke="#32363a" stroke-width="4.8"/>
<path d="M1451.4 904.1 h-3.2" stroke="#32363a" stroke-width="4.8"/>
<text x="1599.5" y="1280.4" font-size="20.6" text-anchor="middle" font-weight="normal" fill="#2b1c1c" >0.75</text>
<text x="1443.2" y="910.8" font-size="20.6" text-anchor="end" font-weight="normal" fill="#2b1c1c" >0.75</text>
<path d="M1727.8 1256.0 v3.2" stroke="#32363a" stroke-width="4.8"/>
<path d="M1451.4 1013.9 h-3.2" stroke="#32363a" stroke-width="4.8"/>
<text x="1725.1" y="1280.4" font-size="20.6" text-anchor="middle" font-weight="normal" fill="#2b1c1c" >0.50</text>
<text x="1443.2" y="1020.6" font-size="20.6" text-anchor="end" font-weight="normal" fill="#2b1c1c" >0.50</text>
<path d="M1853.4 1256.0 v3.2" stroke="#32363a" stroke-width="4.8"/>
<path d="M1451.4 1123.7 h-3.2" stroke="#32363a" stroke-width="4.8"/>
<text x="1850.7" y="1280.4" font-size="20.6" text-anchor="middle" font-weight="normal" fill="#2b1c1c" >0.25</text>
<text x="1443.2" y="1130.4" font-size="20.6" text-anchor="end" font-weight="normal" fill="#2b1c1c" >0.25</text>
<path d="M1979.1 1256.0 v3.2" stroke="#32363a" stroke-width="4.8"/>
<path d="M1451.4 1233.5 h-3.2" stroke="#32363a" stroke-width="4.8"/>
<text x="1976.4" y="1280.4" font-size="20.6" text-anchor="middle" font-weight="normal" fill="#2b1c1c" >0.00</text>
<text x="1443.2" y="1240.2" font-size="20.6" text-anchor="end" font-weight="normal" fill="#2b1c1c" >0.00</text>
<path d="M1476.5 1233.5 L1979.1 794.3" stroke="#000" stroke-width="2.2" stroke-dasharray="17.6 17.6" fill="none"/>
<polyline points="1476.4,1232.5 1476.4,1201.8 1498.4,1201.8 1498.4,1196.6 1505.9,1196.6 1505.9,1192.8 1514.1,1192.8 1514.1,1189.1 1521.6,1189.1 1521.6,1174.9 1536.6,1174.9 1536.6,1153.9 1544.1,1152.4 1550.8,1150.9 1550.8,1146.4 1559.1,1146.4 1559.1,1141.2 1566.5,1141.2 1566.5,1124.0 1574.0,1122.5 1581.5,1121.0 1581.5,1105.3 1589.0,1105.3 1589.0,1091.8 1596.5,1091.1 1596.5,1088.1 1604.0,1088.1 1604.0,1082.8 1618.9,1082.8 1618.9,1079.1 1626.4,1079.1 1626.4,1075.3 1641.4,1075.3 1641.4,1055.9 1648.9,1055.9 1648.9,1034.2 1656.3,1034.2 1656.3,1031.2 1663.8,1031.2 1663.8,1020.7 1672.1,1014.7 1672.1,1005.7 1680.3,1005.7 1679.4,992.3 1686.5,991.6 1686.5,989.5 1709.5,989.5 1709.5,970.1 1716.7,970.1 1716.7,968.0 1727.0,968.0 1731.3,968.6 1731.3,961.5 1739.2,960.8 1739.2,957.9 1746.4,957.9 1746.4,947.8 1753.6,947.8 1753.6,934.9 1761.5,934.9 1761.5,929.2 1768.6,926.3 1775.8,925.6 1775.8,922.7 1783.7,922.0 1783.7,917.0 1791.6,917.0 1791.6,900.5 1798.8,899.8 1806.0,898.3 1806.0,894.0 1813.8,893.3 1821.0,891.9 1821.0,886.9 1836.1,886.9 1836.1,868.9 1851.1,868.9 1851.1,865.3 1866.2,865.3 1866.2,861.8 1873.4,860.3 1888.4,856.7 1888.4,854.6 1896.3,854.6 1896.3,841.0 1903.5,840.2 1910.7,838.1 1910.7,835.2 1918.6,833.8 1925.8,832.3 1940.8,831.6 1940.8,815.8 1948.7,815.8 1948.7,804.4 1963.8,804.4 1979.6,800.1 1979.6,795.8" fill="none" stroke="#e5706b" stroke-width="4.2" stroke-linejoin="round"/>
<polyline points="1476.4,1232.5 1476.4,1115.0 1484.2,1115.0 1484.2,1070.1 1491.7,1070.1 1491.7,1066.4 1499.2,1066.4 1499.2,1049.9 1505.2,1049.9 1505.2,1046.2 1514.9,1046.2 1514.9,1030.4 1521.6,1030.4 1521.6,1005.0 1521.5,993.8 1535.9,993.8 1535.9,983.0 1551.7,983.0 1551.7,970.1 1558.8,970.1 1558.8,947.9 1566.0,947.9 1566.0,919.2 1573.9,919.2 1573.9,912.0 1581.8,910.6 1589.0,909.1 1589.0,906.3 1596.1,906.3 1596.1,874.7 1604.0,874.7 1604.0,868.9 1611.2,868.9 1611.2,851.7 1619.1,851.7 1619.1,838.8 1626.3,838.8 1626.3,835.2 1634.2,835.2 1634.2,828.0 1641.3,828.0 1641.3,823.0 1649.2,823.0 1649.2,817.3 1656.4,817.3 1656.4,813.0 1665.0,813.0 1665.0,809.7 1727.0,808.7 1754.3,807.2 1778.7,805.1 1823.2,804.4 1857.6,797.9 1894.9,797.9 1979.6,795.8" fill="none" stroke="#909a2d" stroke-width="4.2" stroke-linejoin="round"/>
<polyline points="1476.4,1232.5 1476.4,1140.5 1485.0,1140.5 1485.0,1098.5 1491.7,1098.5 1491.7,1057.4 1499.2,1057.4 1499.2,1049.9 1514.9,1049.9 1514.9,1047.7 1521.6,1047.7 1521.6,1008.0 1529.9,1008.0 1529.0,995.9 1536.6,995.9 1536.6,990.2 1544.5,988.8 1551.7,987.3 1551.7,985.2 1559.6,984.5 1559.6,968.7 1566.7,968.7 1566.7,956.5 1573.9,955.8 1581.8,953.6 1581.8,951.5 1589.0,951.5 1589.0,945.0 1604.0,944.3 1611.2,942.1 1611.2,940.0 1619.1,939.3 1626.3,937.1 1626.3,919.2 1634.2,919.2 1634.2,913.4 1641.3,913.4 1641.3,908.4 1649.2,908.4 1649.2,904.8 1656.4,904.8 1656.4,897.6 1664.3,897.6 1664.3,867.5 1671.5,867.5 1671.5,861.8 1679.4,861.8 1679.4,858.2 1686.5,858.2 1686.5,854.6 1701.6,854.6 1701.6,851.0 1727.0,851.0 1730.6,851.7 1738.5,848.8 1746.4,848.1 1746.4,842.4 1761.5,842.4 1761.5,833.1 1768.6,833.1 1768.6,826.6 1776.5,826.6 1776.5,819.4 1783.7,819.4 1783.7,813.7 1798.8,813.7 1813.8,810.8 1828.9,810.1 1844.0,808.0 1844.0,805.1 1889.2,805.1 1896.3,803.7 1896.3,800.8 1979.6,797.2" fill="none" stroke="#0fa571" stroke-width="4.2" stroke-linejoin="round"/>
<polyline points="1476.4,1232.5 1476.4,1079.1 1484.2,1079.1 1484.2,1027.5 1499.2,1027.5 1499.2,1005.0 1498.9,978.0 1506.0,978.0 1506.0,932.8 1513.6,932.8 1513.6,929.2 1521.5,929.2 1521.5,902.7 1529.0,902.7 1529.0,888.3 1535.9,888.3 1535.9,863.9 1543.8,863.2 1543.8,859.6 1558.8,859.6 1558.8,847.4 1573.9,847.4 1573.9,838.1 1590.4,837.4 1590.4,834.5 1596.9,834.5 1596.9,828.0 1603.3,828.0 1603.3,819.4 1610.5,819.4 1610.5,815.9 1626.3,815.9 1626.3,812.3 1641.3,812.3 1641.3,810.1 1709.5,808.7 1709.5,804.4 1727.0,804.4 1737.1,802.9 1760.0,800.1 1768.6,798.6 1894.9,797.9 1917.9,797.2 1979.6,795.0" fill="none" stroke="#a63c2b" stroke-width="4.2" stroke-linejoin="round"/>
<polyline points="1476.4,1232.5 1476.4,1048.4 1484.2,1048.4 1484.2,1030.4 1491.7,1030.4 1491.7,1009.5 1499.2,1009.5 1499.2,1005.0 1498.9,1009.6 1498.9,975.8 1506.5,975.8 1506.5,948.6 1513.6,948.6 1513.6,940.7 1521.5,939.3 1521.5,937.8 1529.0,937.8 1529.0,909.8 1536.6,909.8 1536.6,883.3 1544.5,881.9 1552.4,879.0 1552.4,877.6 1558.8,877.6 1558.8,848.9 1566.0,848.9 1566.0,835.2 1589.0,835.2 1589.0,826.6 1604.0,825.9 1604.0,820.9 1619.1,820.2 1619.1,810.8 1626.3,810.8 1626.3,807.2 1727.0,807.2 1731.3,805.8 1760.0,803.7 1775.1,801.5 1866.2,801.5 1866.2,799.3 1917.9,798.6 1917.9,796.5 1933.6,795.8 1933.6,794.3 1979.6,794.3" fill="none" stroke="#1197a5" stroke-width="4.2" stroke-linejoin="round"/>
<text x="1738.3" y="1322.0" font-size="27" text-anchor="middle" font-weight="normal" fill="#000" >Specificity</text>
<text transform="translate(1387.0,1007.0) rotate(-90)" font-size="27" text-anchor="middle">Sensitivity</text>
<text x="1663.8" y="1109.7" font-size="17.85" text-anchor="start" font-weight="normal" fill="#000" >AUC (95% Confidence Interval)</text>
<path d="M1636.4 1132.5 h32" stroke="#e5706b" stroke-width="5.0"/>
<text x="1677.1" y="1136.7" font-size="18.1" text-anchor="start" font-weight="normal" fill="#000" >clinical</text>
<text x="1819.9" y="1137.9" font-size="18.3" text-anchor="start" font-weight="normal" fill="#000" >0.570 (0.493-0.648)</text>
<path d="M1636.4 1156.1 h32" stroke="#909a2d" stroke-width="5.0"/>
<text x="1677.1" y="1160.9" font-size="18.1" text-anchor="start" font-weight="normal" fill="#000" >clinic-Radiomics</text>
<text x="1819.9" y="1161.4" font-size="18.3" text-anchor="start" font-weight="normal" fill="#000" >0.867 (0.816-0.918)</text>
<path d="M1636.4 1179.6 h32" stroke="#0fa571" stroke-width="5.0"/>
<text x="1677.1" y="1184.9" font-size="18.1" text-anchor="start" font-weight="normal" fill="#000" >clinic-mC</text>
<text x="1819.9" y="1185.5" font-size="18.3" text-anchor="start" font-weight="normal" fill="#000" >0.805 (0.749-0.861)</text>
<path d="M1636.4 1203.5 h32" stroke="#a63c2b" stroke-width="5.0"/>
<text x="1677.1" y="1208.9" font-size="18.1" text-anchor="start" font-weight="normal" fill="#000" >clinic-RadmC</text>
<text x="1819.9" y="1209.8" font-size="18.3" text-anchor="start" font-weight="normal" fill="#000" >0.923 (0.886-0.959)</text>
<path d="M1636.4 1227.3 h32" stroke="#1197a5" stroke-width="5.0"/>
<text x="1677.1" y="1233.5" font-size="18.1" text-anchor="start" font-weight="normal" fill="#000" >clinic-Rad(h)mC</text>
<text x="1819.9" y="1234.0" font-size="18.3" text-anchor="start" font-weight="normal" fill="#000" >0.919 (0.883-0.956)</text>
<rect x="66.0" y="1339.4" width="579.2" height="79.1" fill="#d96c66"/>
<rect x="66.0" y="1418.5" width="579.2" height="34.4" fill="#05a0a1"/>
<rect x="66.0" y="1452.9" width="579.2" height="148.9" fill="#fff"/>
<rect x="66.0" y="1339.4" width="579.2" height="262.4" fill="none" stroke="#2a1b1b" stroke-width="2.6"/>
<path d="M66.0 1418.5 h579.2" stroke="#2a1b1b" stroke-width="2"/>
<path d="M66.0 1452.9 h579.2" stroke="#2a1b1b" stroke-width="2"/>
<path d="M66.0 1482 h579.2" stroke="#2a1b1b" stroke-width="2"/>
<path d="M66.0 1511.4 h579.2" stroke="#2a1b1b" stroke-width="2"/>
<path d="M66.0 1541 h579.2" stroke="#2a1b1b" stroke-width="2"/>
<path d="M66.0 1571 h579.2" stroke="#2a1b1b" stroke-width="2"/>
<path d="M199.5 1418.5 V1601.8" stroke="#1a0f0f" stroke-width="1.5"/>
<path d="M293.6 1418.5 V1601.8" stroke="#1a0f0f" stroke-width="1.5"/>
<path d="M389.0 1418.5 V1601.8" stroke="#1a0f0f" stroke-width="1.5"/>
<path d="M470.6 1418.5 V1601.8" stroke="#1a0f0f" stroke-width="1.5"/>
<path d="M552.2 1418.5 V1601.8" stroke="#1a0f0f" stroke-width="1.5"/>
<text x="364.4" y="1374.0" font-size="27.2" text-anchor="middle" font-weight="normal" fill="#000" >Performance metrics based on maximum</text>
<text x="364.4" y="1407.1" font-size="27.2" text-anchor="middle" font-weight="normal" fill="#000" >Youden Index identified on the training set</text>
<text x="138.0" y="1444.7" font-size="22.7" text-anchor="middle" font-weight="normal" fill="#000" >Model</text>
<text x="237.6" y="1444.7" font-size="22.7" text-anchor="middle" font-weight="normal" fill="#000" >Sens</text>
<text x="335.8" y="1444.7" font-size="22.7" text-anchor="middle" font-weight="normal" fill="#000" >Spec</text>
<text x="426.2" y="1444.7" font-size="22.7" text-anchor="middle" font-weight="normal" fill="#000" >PPV</text>
<text x="508.7" y="1444.7" font-size="22.7" text-anchor="middle" font-weight="normal" fill="#000" >NPV</text>
<text x="596.4" y="1444.7" font-size="22.7" text-anchor="middle" font-weight="normal" fill="#000" >Accur</text>
<text x="132.5" y="1475.4" font-size="18" text-anchor="middle" font-weight="normal" fill="#000" >clinical</text>
<text x="240.4" y="1476.0" font-size="17.95" text-anchor="middle" font-weight="normal" fill="#000" >0.557</text>
<text x="334.2" y="1476.0" font-size="17.95" text-anchor="middle" font-weight="normal" fill="#000" >0.629</text>
<text x="423.3" y="1476.0" font-size="17.95" text-anchor="middle" font-weight="normal" fill="#000" >0.872</text>
<text x="506.6" y="1476.0" font-size="17.95" text-anchor="middle" font-weight="normal" fill="#000" >0.238</text>
<text x="591.2" y="1476.0" font-size="17.95" text-anchor="middle" font-weight="normal" fill="#000" >0.593</text>
<text x="133.3" y="1504.0" font-size="18" text-anchor="middle" font-weight="normal" fill="#000" >clinic-Radiomics</text>
<text x="241.4" y="1505.2" font-size="17.95" text-anchor="middle" font-weight="normal" fill="#000" >0.840</text>
<text x="335.2" y="1505.2" font-size="17.95" text-anchor="middle" font-weight="normal" fill="#000" >0.694</text>
<text x="424.3" y="1505.2" font-size="17.95" text-anchor="middle" font-weight="normal" fill="#000" >0.926</text>
<text x="507.6" y="1505.2" font-size="17.95" text-anchor="middle" font-weight="normal" fill="#000" >0.489</text>
<text x="592.2" y="1505.2" font-size="17.95" text-anchor="middle" font-weight="normal" fill="#000" >0.767</text>
<text x="133.3" y="1534.4" font-size="18" text-anchor="middle" font-weight="normal" fill="#000" >clinic-mC</text>
<text x="241.4" y="1535.0" font-size="17.95" text-anchor="middle" font-weight="normal" fill="#000" >0.748</text>
<text x="335.2" y="1535.0" font-size="17.95" text-anchor="middle" font-weight="normal" fill="#000" >0.758</text>
<text x="424.3" y="1535.0" font-size="17.95" text-anchor="middle" font-weight="normal" fill="#000" >0.934</text>
<text x="507.6" y="1535.0" font-size="17.95" text-anchor="middle" font-weight="normal" fill="#000" >0.398</text>
<text x="592.2" y="1535.0" font-size="17.95" text-anchor="middle" font-weight="normal" fill="#000" >0.753</text>
<text x="133.2" y="1563.6" font-size="18" text-anchor="middle" font-weight="normal" fill="#000" >clinic-RadmC</text>
<text x="241.4" y="1564.8" font-size="17.95" text-anchor="middle" font-weight="normal" fill="#000" >0.809</text>
<text x="335.2" y="1564.8" font-size="17.95" text-anchor="middle" font-weight="normal" fill="#000" >0.774</text>
<text x="424.3" y="1564.8" font-size="17.95" text-anchor="middle" font-weight="normal" fill="#000" >0.942</text>
<text x="507.6" y="1564.8" font-size="17.95" text-anchor="middle" font-weight="normal" fill="#000" >0.471</text>
<text x="592.2" y="1564.8" font-size="17.95" text-anchor="middle" font-weight="normal" fill="#000" >0.791</text>
<text x="134.9" y="1593.1" font-size="18" text-anchor="middle" font-weight="normal" fill="#000" >clinic-Rad(h)mC</text>
<text x="241.4" y="1594.9" font-size="17.95" text-anchor="middle" font-weight="normal" fill="#000" >0.812</text>
<text x="335.2" y="1594.9" font-size="17.95" text-anchor="middle" font-weight="normal" fill="#000" >0.774</text>
<text x="424.3" y="1594.9" font-size="17.95" text-anchor="middle" font-weight="normal" fill="#000" >0.942</text>
<text x="507.6" y="1594.9" font-size="17.95" text-anchor="middle" font-weight="normal" fill="#000" >0.475</text>
<text x="592.2" y="1594.9" font-size="17.95" text-anchor="middle" font-weight="normal" fill="#000" >0.793</text>
<rect x="752.9" y="1339.4" width="579.2" height="79.1" fill="#d96c66"/>
<rect x="752.9" y="1418.5" width="579.2" height="34.4" fill="#05a0a1"/>
<rect x="752.9" y="1452.9" width="579.2" height="148.9" fill="#fff"/>
<rect x="752.9" y="1339.4" width="579.2" height="262.4" fill="none" stroke="#2a1b1b" stroke-width="2.6"/>
<path d="M752.9 1418.5 h579.2" stroke="#2a1b1b" stroke-width="2"/>
<path d="M752.9 1452.9 h579.2" stroke="#2a1b1b" stroke-width="2"/>
<path d="M752.9 1482 h579.2" stroke="#2a1b1b" stroke-width="2"/>
<path d="M752.9 1511.4 h579.2" stroke="#2a1b1b" stroke-width="2"/>
<path d="M752.9 1541 h579.2" stroke="#2a1b1b" stroke-width="2"/>
<path d="M752.9 1571 h579.2" stroke="#2a1b1b" stroke-width="2"/>
<path d="M886.4 1418.5 V1601.8" stroke="#1a0f0f" stroke-width="1.5"/>
<path d="M980.5 1418.5 V1601.8" stroke="#1a0f0f" stroke-width="1.5"/>
<path d="M1075.9 1418.5 V1601.8" stroke="#1a0f0f" stroke-width="1.5"/>
<path d="M1157.5 1418.5 V1601.8" stroke="#1a0f0f" stroke-width="1.5"/>
<path d="M1239.1 1418.5 V1601.8" stroke="#1a0f0f" stroke-width="1.5"/>
<text x="1049.1" y="1374.0" font-size="27.2" text-anchor="middle" font-weight="normal" fill="#000" >Performance metrics based on maximum</text>
<text x="1049.1" y="1407.1" font-size="27.2" text-anchor="middle" font-weight="normal" fill="#000" >Youden Index identified on the training set</text>
<text x="824.9" y="1444.7" font-size="22.7" text-anchor="middle" font-weight="normal" fill="#000" >Model</text>
<text x="924.5" y="1444.7" font-size="22.7" text-anchor="middle" font-weight="normal" fill="#000" >Sens</text>
<text x="1022.7" y="1444.7" font-size="22.7" text-anchor="middle" font-weight="normal" fill="#000" >Spec</text>
<text x="1113.1" y="1444.7" font-size="22.7" text-anchor="middle" font-weight="normal" fill="#000" >PPV</text>
<text x="1195.6" y="1444.7" font-size="22.7" text-anchor="middle" font-weight="normal" fill="#000" >NPV</text>
<text x="1283.3" y="1444.7" font-size="22.7" text-anchor="middle" font-weight="normal" fill="#000" >Accur</text>
<text x="819.4" y="1475.4" font-size="18" text-anchor="middle" font-weight="normal" fill="#000" >clinical</text>
<text x="925.0" y="1475.1" font-size="17.95" text-anchor="middle" font-weight="normal" fill="#000" >0.507</text>
<text x="1018.8" y="1475.1" font-size="17.95" text-anchor="middle" font-weight="normal" fill="#000" >0.529</text>
<text x="1107.9" y="1475.1" font-size="17.95" text-anchor="middle" font-weight="normal" fill="#000" >0.808</text>
<text x="1191.2" y="1475.1" font-size="17.95" text-anchor="middle" font-weight="normal" fill="#000" >0.215</text>
<text x="1275.8" y="1475.1" font-size="17.95" text-anchor="middle" font-weight="normal" fill="#000" >0.518</text>
<text x="820.2" y="1505.6" font-size="18" text-anchor="middle" font-weight="normal" fill="#000" >clinic-Radiomics</text>
<text x="928.3" y="1505.2" font-size="17.95" text-anchor="middle" font-weight="normal" fill="#000" >0.869</text>
<text x="1022.1" y="1505.2" font-size="17.95" text-anchor="middle" font-weight="normal" fill="#000" >0.714</text>
<text x="1111.2" y="1505.2" font-size="17.95" text-anchor="middle" font-weight="normal" fill="#000" >0.922</text>
<text x="1194.5" y="1505.2" font-size="17.95" text-anchor="middle" font-weight="normal" fill="#000" >0.581</text>
<text x="1279.1" y="1505.2" font-size="17.95" text-anchor="middle" font-weight="normal" fill="#000" >0.791</text>
<text x="820.2" y="1535.9" font-size="18" text-anchor="middle" font-weight="normal" fill="#000" >clinic-mC</text>
<text x="928.3" y="1535.0" font-size="17.95" text-anchor="middle" font-weight="normal" fill="#000" >0.734</text>
<text x="1022.1" y="1535.0" font-size="17.95" text-anchor="middle" font-weight="normal" fill="#000" >0.729</text>
<text x="1111.2" y="1535.0" font-size="17.95" text-anchor="middle" font-weight="normal" fill="#000" >0.914</text>
<text x="1194.5" y="1535.0" font-size="17.95" text-anchor="middle" font-weight="normal" fill="#000" >0.411</text>
<text x="1279.1" y="1535.0" font-size="17.95" text-anchor="middle" font-weight="normal" fill="#000" >0.731</text>
<text x="820.1" y="1565.2" font-size="18" text-anchor="middle" font-weight="normal" fill="#000" >clinic-RadmC</text>
<text x="928.3" y="1564.8" font-size="17.95" text-anchor="middle" font-weight="normal" fill="#000" >0.858</text>
<text x="1022.1" y="1564.8" font-size="17.95" text-anchor="middle" font-weight="normal" fill="#000" >0.829</text>
<text x="1111.2" y="1564.8" font-size="17.95" text-anchor="middle" font-weight="normal" fill="#000" >0.951</text>
<text x="1194.5" y="1564.8" font-size="17.95" text-anchor="middle" font-weight="normal" fill="#000" >0.598</text>
<text x="1279.1" y="1564.8" font-size="17.95" text-anchor="middle" font-weight="normal" fill="#000" >0.843</text>
<text x="821.8" y="1594.7" font-size="18" text-anchor="middle" font-weight="normal" fill="#000" >clinic-Rad(h)mC</text>
<text x="928.3" y="1594.9" font-size="17.95" text-anchor="middle" font-weight="normal" fill="#000" >0.828</text>
<text x="1022.1" y="1594.9" font-size="17.95" text-anchor="middle" font-weight="normal" fill="#000" >0.814</text>
<text x="1111.2" y="1594.9" font-size="17.95" text-anchor="middle" font-weight="normal" fill="#000" >0.946</text>
<text x="1194.5" y="1594.9" font-size="17.95" text-anchor="middle" font-weight="normal" fill="#000" >0.548</text>
<text x="1279.1" y="1594.9" font-size="17.95" text-anchor="middle" font-weight="normal" fill="#000" >0.821</text>
<rect x="1439.9" y="1339.4" width="579.2" height="79.1" fill="#d96c66"/>
<rect x="1439.9" y="1418.5" width="579.2" height="34.4" fill="#05a0a1"/>
<rect x="1439.9" y="1452.9" width="579.2" height="148.9" fill="#fff"/>
<rect x="1439.9" y="1339.4" width="579.2" height="262.4" fill="none" stroke="#2a1b1b" stroke-width="2.6"/>
<path d="M1439.9 1418.5 h579.2" stroke="#2a1b1b" stroke-width="2"/>
<path d="M1439.9 1452.9 h579.2" stroke="#2a1b1b" stroke-width="2"/>
<path d="M1439.9 1482 h579.2" stroke="#2a1b1b" stroke-width="2"/>
<path d="M1439.9 1511.4 h579.2" stroke="#2a1b1b" stroke-width="2"/>
<path d="M1439.9 1541 h579.2" stroke="#2a1b1b" stroke-width="2"/>
<path d="M1439.9 1571 h579.2" stroke="#2a1b1b" stroke-width="2"/>
<path d="M1573.4 1418.5 V1601.8" stroke="#1a0f0f" stroke-width="1.5"/>
<path d="M1667.5 1418.5 V1601.8" stroke="#1a0f0f" stroke-width="1.5"/>
<path d="M1762.9 1418.5 V1601.8" stroke="#1a0f0f" stroke-width="1.5"/>
<path d="M1844.5 1418.5 V1601.8" stroke="#1a0f0f" stroke-width="1.5"/>
<path d="M1926.1 1418.5 V1601.8" stroke="#1a0f0f" stroke-width="1.5"/>
<text x="1733.0" y="1374.0" font-size="27.2" text-anchor="middle" font-weight="normal" fill="#000" >Performance metrics based on maximum</text>
<text x="1733.0" y="1407.1" font-size="27.2" text-anchor="middle" font-weight="normal" fill="#000" >Youden Index identified on the training set</text>
<text x="1511.9" y="1444.7" font-size="22.7" text-anchor="middle" font-weight="normal" fill="#000" >Model</text>
<text x="1611.5" y="1444.7" font-size="22.7" text-anchor="middle" font-weight="normal" fill="#000" >Sens</text>
<text x="1709.7" y="1444.7" font-size="22.7" text-anchor="middle" font-weight="normal" fill="#000" >Spec</text>
<text x="1800.1" y="1444.7" font-size="22.7" text-anchor="middle" font-weight="normal" fill="#000" >PPV</text>
<text x="1882.6" y="1444.7" font-size="22.7" text-anchor="middle" font-weight="normal" fill="#000" >NPV</text>
<text x="1970.3" y="1444.7" font-size="22.7" text-anchor="middle" font-weight="normal" fill="#000" >Accur</text>
<text x="1506.4" y="1475.4" font-size="18" text-anchor="middle" font-weight="normal" fill="#000" >clinical</text>
<text x="1616.3" y="1476.0" font-size="17.95" text-anchor="middle" font-weight="normal" fill="#000" >0.563</text>
<text x="1710.1" y="1476.0" font-size="17.95" text-anchor="middle" font-weight="normal" fill="#000" >0.537</text>
<text x="1799.2" y="1476.0" font-size="17.95" text-anchor="middle" font-weight="normal" fill="#000" >0.818</text>
<text x="1882.5" y="1476.0" font-size="17.95" text-anchor="middle" font-weight="normal" fill="#000" >0.250</text>
<text x="1967.1" y="1476.0" font-size="17.95" text-anchor="middle" font-weight="normal" fill="#000" >0.550</text>
<text x="1507.2" y="1505.6" font-size="18" text-anchor="middle" font-weight="normal" fill="#000" >clinic-Radiomics</text>
<text x="1615.3" y="1505.2" font-size="17.95" text-anchor="middle" font-weight="normal" fill="#000" >0.891</text>
<text x="1709.1" y="1505.2" font-size="17.95" text-anchor="middle" font-weight="normal" fill="#000" >0.716</text>
<text x="1798.2" y="1505.2" font-size="17.95" text-anchor="middle" font-weight="normal" fill="#000" >0.921</text>
<text x="1881.5" y="1505.2" font-size="17.95" text-anchor="middle" font-weight="normal" fill="#000" >0.640</text>
<text x="1966.1" y="1505.2" font-size="17.95" text-anchor="middle" font-weight="normal" fill="#000" >0.804</text>
<text x="1507.2" y="1535.9" font-size="18" text-anchor="middle" font-weight="normal" fill="#000" >clinic-mC</text>
<text x="1615.3" y="1535.0" font-size="17.95" text-anchor="middle" font-weight="normal" fill="#000" >0.862</text>
<text x="1709.1" y="1535.0" font-size="17.95" text-anchor="middle" font-weight="normal" fill="#000" >0.582</text>
<text x="1798.2" y="1535.0" font-size="17.95" text-anchor="middle" font-weight="normal" fill="#000" >0.884</text>
<text x="1881.5" y="1535.0" font-size="17.95" text-anchor="middle" font-weight="normal" fill="#000" >0.534</text>
<text x="1966.1" y="1535.0" font-size="17.95" text-anchor="middle" font-weight="normal" fill="#000" >0.722</text>
<text x="1507.1" y="1565.2" font-size="18" text-anchor="middle" font-weight="normal" fill="#000" >clinic-RadmC</text>
<text x="1615.3" y="1564.8" font-size="17.95" text-anchor="middle" font-weight="normal" fill="#000" >0.895</text>
<text x="1709.1" y="1564.8" font-size="17.95" text-anchor="middle" font-weight="normal" fill="#000" >0.806</text>
<text x="1798.2" y="1564.8" font-size="17.95" text-anchor="middle" font-weight="normal" fill="#000" >0.944</text>
<text x="1881.5" y="1564.8" font-size="17.95" text-anchor="middle" font-weight="normal" fill="#000" >0.675</text>
<text x="1966.1" y="1564.8" font-size="17.95" text-anchor="middle" font-weight="normal" fill="#000" >0.850</text>
<text x="1508.8" y="1594.7" font-size="18" text-anchor="middle" font-weight="normal" fill="#000" >clinic-Rad(h)mC</text>
<text x="1615.3" y="1594.9" font-size="17.95" text-anchor="middle" font-weight="normal" fill="#000" >0.907</text>
<text x="1709.1" y="1594.9" font-size="17.95" text-anchor="middle" font-weight="normal" fill="#000" >0.806</text>
<text x="1798.2" y="1594.9" font-size="17.95" text-anchor="middle" font-weight="normal" fill="#000" >0.945</text>
<text x="1881.5" y="1594.9" font-size="17.95" text-anchor="middle" font-weight="normal" fill="#000" >0.701</text>
<text x="1966.1" y="1594.9" font-size="17.95" text-anchor="middle" font-weight="normal" fill="#000" >0.856</text>
</svg>
</body></html>
